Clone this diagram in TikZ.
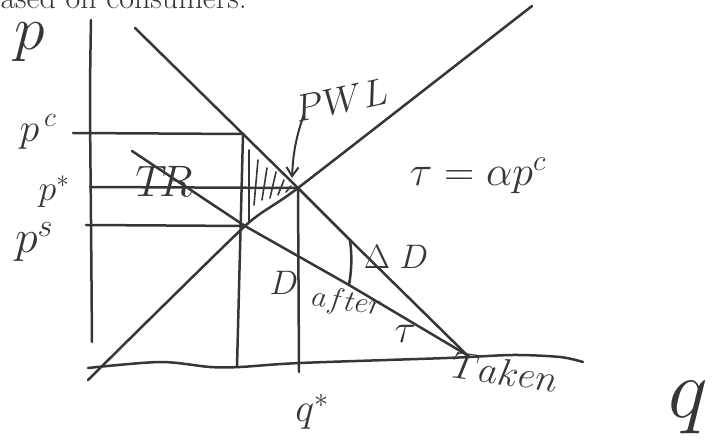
\RequirePackage{fix-cm}
\documentclass[tikz,border=0pt]{standalone}
\usetikzlibrary{arrows.meta}
\definecolor{ink}{HTML}{363636}
\tikzset{
  inkline/.style={draw=ink,line width=2.5pt,line cap=round,line join=round},
  thinink/.style={draw=ink,line width=1.6pt,line cap=round,line join=round},
  lbl/.style={text=ink,inner sep=0pt},
  fs/.style={font=\fontsize{#1}{#1}\selectfont}}
\begin{document}
\begin{tikzpicture}[x=1pt,y=-1pt]
\useasboundingbox (0,0) rectangle (715,443);
% cut-off heading text
\node[lbl,anchor=base east,fs=32] (head) at (247,9) {ased on consumers.};
% key points
\coordinate (E) at (298,188);
\coordinate (PC) at (243,134);
\coordinate (PS) at (245,226);
\coordinate (TK) at (467,355);
\coordinate (DU) at (350,240);
\coordinate (DL) at (349,285);
% axes
\draw[inkline] plot[smooth] coordinates {(91,20) (90,100) (91,220) (92,342)};
\draw[inkline] plot[smooth] coordinates {(88,368) (160,362) (210,367) (240,367) (300,363) (447,358) (513,355) (560,357) (583,362)};
% supply
\draw[inkline] plot[smooth,tension=0.3] coordinates {(88,380) (PS) (E) (532,6)};
% demand
\draw[inkline] (135,28) -- (PC) -- (E) -- (DU) -- (TK);
% after-tax demand
\draw[inkline] (132,151) -- (PS) -- (DL) -- (TK);
% price lines
\coordinate (AC) at (73,133);
\coordinate (AE) at (90,187);
\coordinate (AS) at (86,225);
\draw[inkline] (AC) -- (PC);
\draw[inkline] (AE) -- (E);
\draw[inkline] (AS) -- (PS);
% quantity lines
\coordinate (QB) at (237,367);
\coordinate (QE) at (299,372);
\draw[inkline] (PC) -- (QB);
\draw[inkline] (E) -- (QE);
% delta D bracket
\draw[inkline] (DU) to[bend left=8] (DL);
% hatching in the triangle
\draw[thinink] (249,150) -- (249,222);
\draw[thinink] (254,205) -- (258,160) (262,200) -- (267,168) (270,198) -- (276,172) (278,195) -- (284,180) (286,192) -- (291,186);
% PWL arrow
\draw[inkline,line width=2pt,-{Straight Barb[length=9pt,width=12pt]}] (304,114) to[bend right=8] (292,178);
% labels
\node[lbl,fs=62] (bigp) at (30,42) {$p$};
\node[lbl,fs=40] (lpc) at (38,132) {$p^{\,c}$};
\node[lbl,fs=36] (lpa) at (54,192) {$p^{*}$};
\node[lbl,fs=46] (lps) at (34,242) {$p^{s}$};
\node[lbl,fs=44] (ltr) at (164,181) {$T\!R$};
\node[lbl,fs=38,rotate=12] (lpwl) at (341,100) {$PWL$};
\node[lbl,fs=42] (ltau) at (478,176) {$\tau=\alpha p^{c}$};
\node[lbl,fs=34] (ldd) at (396,257) {$\Delta\;D$};
\node[lbl,fs=34] (ld) at (284,283) {$D$};
\node[lbl,fs=30,rotate=-8] (laft) at (347,303) {$after$};
\node[lbl,fs=40] (ltau2) at (405,334) {$\tau$};
\node[lbl,fs=38,rotate=-8] (ltk) at (505,372) {$Taken$};
\node[lbl,fs=40] (lq) at (312,412) {$q^{*}$};
\node[lbl,fs=84] (bigq) at (688,408) {$q$};
\end{tikzpicture}
\end{document}
